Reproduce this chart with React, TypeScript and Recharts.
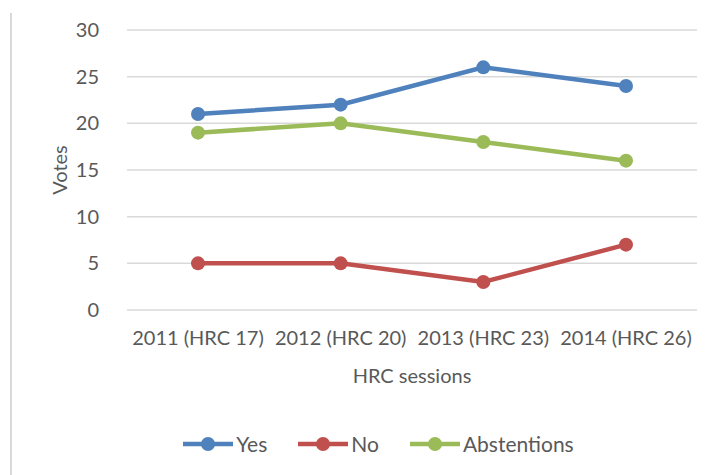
import { CartesianGrid, Legend, Line, LineChart, XAxis, YAxis } from "recharts";

const sessions = ["2011 (HRC 17)", "2012 (HRC 20)", "2013 (HRC 23)", "2014 (HRC 26)"];
const yesVotes = [21, 22, 26, 24];
const noVotes = [5, 5, 3, 7];
const abstentionVotes = [19, 20, 18, 16];
const yTicks = [0, 5, 10, 15, 20, 25, 30];

const series = [
  { key: "yes", name: "Yes", color: "#4F81BD" },
  { key: "no", name: "No", color: "#C0504D" },
  { key: "abstentions", name: "Abstentions", color: "#9BBB59" },
];

const data = sessions.map((session, i) => ({
  session,
  yes: yesVotes[i],
  no: noVotes[i],
  abstentions: abstentionVotes[i],
}));

const font = "Lato, 'Open Sans', sans-serif";
const textColor = "#595959";

function LegendContent() {
  return (
    <div
      style={{
        display: "flex",
        justifyContent: "center",
        fontFamily: font,
        fontSize: 21,
        lineHeight: "24px",
        color: textColor,
        paddingLeft: 12,
      }}
    >
      {series.map((s, i) => (
        <div
          key={s.key}
          style={{ display: "flex", alignItems: "center", marginRight: i < series.length - 1 ? 30 : 0 }}
        >
          <svg width={52} height={18} style={{ marginRight: 2 }}>
            <line x1={1} y1={9} x2={51} y2={9} stroke={s.color} strokeWidth={4.5} />
            <circle cx={26} cy={9} r={7} fill={s.color} />
          </svg>
          <span>{s.name}</span>
        </div>
      ))}
    </div>
  );
}

export default function App() {
  return (
    <div style={{ position: "absolute", left: 0, top: 0, width: 713, height: 475, background: "#fff" }}>
      <div
        style={{ position: "absolute", left: 10, top: 13, width: 0, height: 462, borderLeft: "2px solid #d9d9d9" }}
      />
      <LineChart width={713} height={475} data={data} margin={{ top: 30, right: 16, left: 47, bottom: 19 }}>
        <CartesianGrid vertical={false} stroke="#d9d9d9" strokeWidth={1.5} />
        <XAxis
          dataKey="session"
          axisLine={false}
          tickLine={false}
          interval={0}
          height={122}
          padding={{ left: 71, right: 71 }}
          tick={{ fill: textColor, fontSize: 20, fontFamily: font }}
          tickMargin={15}
          label={{ value: "HRC sessions", position: "insideTop", offset: 59, fill: textColor, fontSize: 20, fontFamily: font }}
        />
        <YAxis
          domain={[0, 30]}
          ticks={yTicks}
          axisLine={false}
          tickLine={false}
          width={80}
          tickMargin={22}
          tick={{ fill: textColor, fontSize: 20, fontFamily: font }}
          label={{
            value: "Votes",
            angle: -90,
            position: "insideLeft",
            offset: 13,
            textAnchor: "middle",
            fill: textColor,
            fontSize: 20,
            fontFamily: font,
          }}
        />
        <Legend verticalAlign="bottom" content={<LegendContent />} />
        {series.map((s) => (
          <Line
            key={s.key}
            dataKey={s.key}
            name={s.name}
            stroke={s.color}
            strokeWidth={4.5}
            dot={{ r: 7, fill: s.color, stroke: s.color, strokeWidth: 0 }}
            isAnimationActive={false}
          />
        ))}
      </LineChart>
    </div>
  );
}
